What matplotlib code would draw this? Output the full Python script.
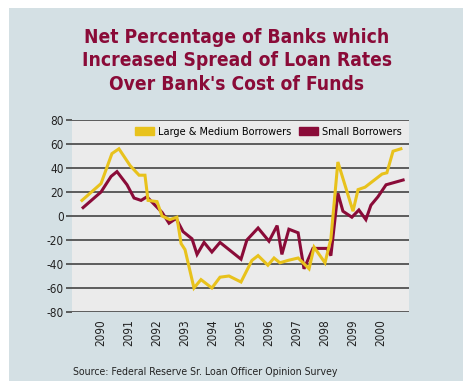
import matplotlib
matplotlib.use("Agg")
import matplotlib.pyplot as plt
from matplotlib.patches import Rectangle, Patch

plt.rcParams["font.family"] = ["DejaVu Sans"]
plt.rcParams["font.stretch"] = "condensed"
plt.rcParams["axes.unicode_minus"] = False

# quarterly survey readings (decimal year, net %)
large_years = [1989.32, 1990.00, 1990.39, 1990.64, 1991.04, 1991.36, 1991.57, 1991.68,
               1992.00, 1992.18, 1992.46, 1992.71, 1992.86, 1993.00, 1993.32, 1993.57,
               1993.96, 1994.25, 1994.57, 1995.00, 1995.39, 1995.61, 1995.96, 1996.18,
               1996.39, 1996.68, 1997.04, 1997.43, 1997.61, 1998.00, 1998.21, 1998.46,
               1999.00, 1999.18, 1999.43, 2000.04, 2000.21, 2000.43, 2000.71]
large_vals = [13, 27, 52, 56, 42, 34, 34, 13,
              12, 0, -3, -1, -23, -28, -60, -53,
              -60, -51, -50, -55, -37, -33, -41, -35,
              -39, -37, -35, -44, -26, -39, -19, 45,
              4, 22, 24, 35, 36, 54, 56]

small_years = [1989.36, 1990.00, 1990.36, 1990.57, 1990.93, 1991.18, 1991.43, 1991.64,
               1991.93, 1992.18, 1992.43, 1992.68, 1992.93, 1993.25, 1993.43, 1993.68,
               1993.96, 1994.25, 1995.00, 1995.21, 1995.61, 1996.00, 1996.29, 1996.46,
               1996.71, 1997.04, 1997.25, 1997.57, 1998.07, 1998.21, 1998.46, 1998.64,
               1998.96, 1999.21, 1999.46, 1999.64, 1999.89, 2000.18, 2000.79]
small_vals = [7, 20, 33, 37, 26, 15, 13, 16,
              9, 3, -6, -2, -13, -19, -32, -22,
              -30, -22, -36, -20, -10, -21, -8, -32,
              -11, -14, -44, -27, -27, -33, 19, 4,
              -1, 5, -3, 9, 16, 26, 30]

tick_years = list(range(1990, 2001))
tick_labels = ["2090", "2091", "2092", "2093", "2094", "2095", "2096",
               "2097", "2098", "2099", "2000"]
y_ticks = list(range(-80, 81, 20))

yellow = "#e8c21c"
maroon = "#8a0b38"

fig = plt.figure(figsize=(4.64, 3.81), dpi=100)
fig.patch.set_facecolor("white")
fig.add_artist(Rectangle((9 / 464, 0), 1 - 9 / 464, 1 - 8 / 381,
                         transform=fig.transFigure, facecolor="#d4e0e4",
                         edgecolor="none", zorder=0))

ax = fig.add_axes([72 / 464, 1 - 312 / 381, 337 / 464, 192 / 381])
ax.set_facecolor("#ebebeb")
for s in ax.spines.values():
    s.set_visible(False)

for v in y_ticks:
    ax.axhline(v, color="#505050", linewidth=1.3, zorder=1)

ax.plot(small_years, small_vals, color=maroon, linewidth=2.2, zorder=3,
        solid_joinstyle="miter")
ax.plot(large_years, large_vals, color=yellow, linewidth=2.2, zorder=4,
        solid_joinstyle="miter")

ax.set_xlim(1988.964, 2001.0)
ax.set_ylim(-80, 80)
ax.set_yticks(y_ticks)
ax.tick_params(axis="y", length=4, width=1.3, color="#505050", labelsize=8.5,
               pad=2, labelcolor="#222222")
ax.set_xticks(tick_years)
ax.set_xticklabels(tick_labels, rotation=90, fontsize=8.5, color="#222222")
ax.tick_params(axis="x", length=0, pad=5)

handles = [Patch(color=yellow, label="Large & Medium Borrowers"),
           Patch(color=maroon, label="Small Borrowers")]
ax.legend(handles=handles, loc="upper right", ncol=2, frameon=False,
          fontsize=7.8, handlelength=1.8, handleheight=0.8, handletextpad=0.35,
          columnspacing=0.7, borderaxespad=0.25, bbox_to_anchor=(1.0, 1.0))

fig.text(237 / 464, 1 - 61 / 381,
         "Net Percentage of Banks which\nIncreased Spread of Loan Rates\nOver Bank's Cost of Funds",
         ha="center", va="center", fontsize=13.8, fontweight="bold",
         color=maroon, linespacing=1.3)

fig.text(73 / 464, 1 - 372 / 381,
         "Source: Federal Reserve Sr. Loan Officer Opinion Survey",
         ha="left", va="center", fontsize=7.6, color="#222222")

fig.savefig("out.png", dpi=100)
